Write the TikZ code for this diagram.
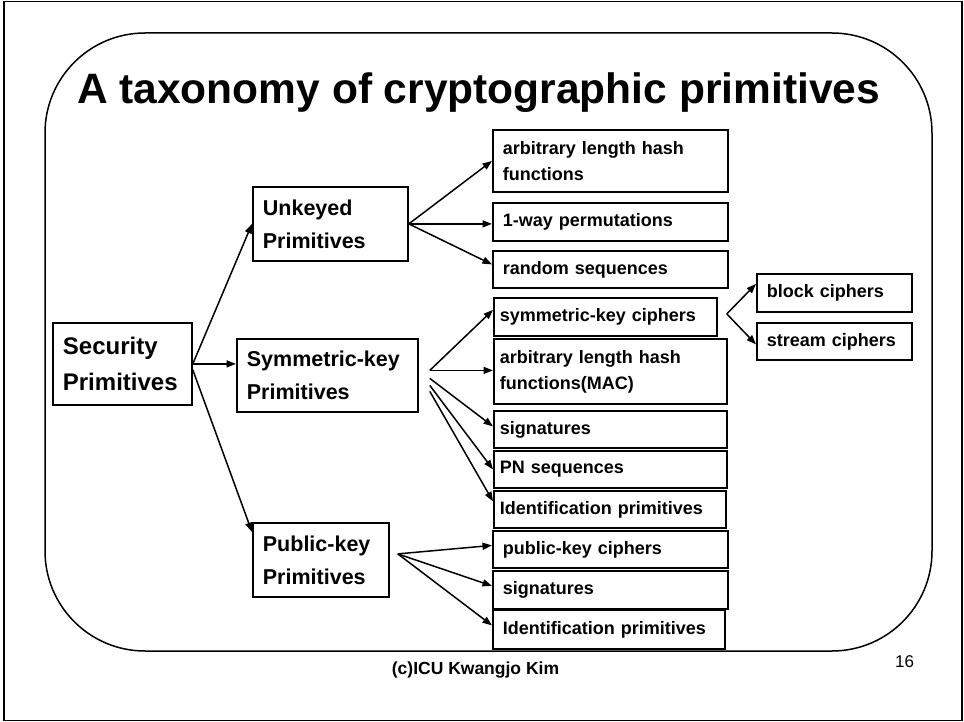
\documentclass[tikz,border=0pt]{standalone}
\usepackage{fontspec}
\setmainfont{Liberation Sans}
\usetikzlibrary{arrows.meta, positioning}

\tikzset{
    prim/.style={draw, line width=1.8pt, anchor=north west, align=left,
        inner xsep=10pt, inner ysep=0pt, font=\fontsize{21.5}{33}\selectfont\bfseries},
    leaf/.style={prim, font=\fontsize{18}{26}\selectfont\bfseries},
    link/.style={-{Triangle[length=9.5pt,width=7pt]}, line width=1.5pt}
}

\begin{document}
\begin{tikzpicture}[x=1pt, y=-1pt]
        \useasboundingbox (0,0) rectangle (964,722);
        \draw[line width=1.5pt] (4,1.5) rectangle (962,720.5);
        \draw[line width=1.5pt, rounded corners=100pt] (45,33) rectangle (932,651);

        \node[anchor=base, font=\fontsize{42.5}{48}\selectfont\bfseries] (title) at (478.5,104)
            {A taxonomy of cryptographic primitives};

        % left and middle column
        \node[prim, font=\fontsize{24}{36}\selectfont\bfseries, text width=119pt, minimum height=82pt] (sec) at (52,322) {Security\\Primitives};
        \node[prim, text width=135pt, minimum height=74pt] (unk) at (252,186) {Unkeyed\\Primitives};
        \node[prim, text width=161pt, minimum height=73pt] (sym) at (236,338) {Symmetric-key\\Primitives};
        \node[prim, text width=116pt, minimum height=74pt] (pub) at (252,522) {Public-key\\Primitives};

        % right column
        \node[leaf, text width=215pt, minimum height=62pt] (hash) at (492,129) {arbitrary length hash\\functions};
        \node[leaf, text width=215pt, minimum height=38pt] (oneway) at (492,202) {1-way permutations};
        \node[leaf, text width=215pt, minimum height=37pt] (rand) at (492,250) {random sequences};

        \node[leaf, inner xsep=6pt, text width=211pt, minimum height=38pt] (symc) at (493,297) {symmetric-key ciphers};
        \node[leaf, inner xsep=6pt, text width=221pt, minimum height=65pt] (mac) at (493,338) {arbitrary length hash\\functions(MAC)};
        \node[leaf, inner xsep=6pt, text width=221pt, minimum height=37pt] (sigs) at (493,410) {signatures};
        \node[leaf, inner xsep=6pt, text width=221pt, minimum height=37pt] (pnseq) at (493,450) {PN sequences};
        \node[leaf, inner xsep=6pt, text width=220pt, minimum height=37pt] (idents) at (493,490) {Identification primitives};

        \node[leaf, text width=215pt, minimum height=37pt] (pubc) at (492,530) {public-key ciphers};
        \node[leaf, text width=215pt, minimum height=38pt] (sigp) at (492,570) {signatures};
        \node[leaf, text width=212pt, minimum height=39pt] (identp) at (492,609) {Identification primitives};

        \node[leaf, text width=135pt, minimum height=38pt] (block) at (756,273) {block ciphers};
        \node[leaf, text width=135pt, minimum height=37pt] (stream) at (756,322) {stream ciphers};

        % connectors
        \draw[link] (sec.east) -- (unk.west);
        \draw[link] (sec.east) -- (sec.east -| sym.west);
        \draw[link] ([yshift=-6pt]sec.east) -- ([yshift=-10pt]pub.north west);

        \draw[link] (unk.east) -- (hash.west);
        \draw[link] (unk.east) -- (unk.east -| oneway.west);
        \draw[link] (unk.east) -- ([yshift=5pt]rand.west);

        \coordinate (symfan) at ([xshift=11pt,yshift=5pt]sym.east);
        \draw[link] (symfan) -- ([yshift=7pt]symc.west);
        \draw[link] (symfan) -- (symfan -| mac.west);
        \draw[link] ([yshift=-8pt]symfan) -- ([yshift=3pt]sigs.west);
        \draw[link] ([yshift=-15pt]symfan) -- (pnseq.west);
        \draw[link] ([yshift=-21pt]symfan) -- ([yshift=8pt]idents.west);

        \coordinate (cipfan) at ([xshift=9pt,yshift=3pt]symc.east);
        \draw[link] (cipfan) -- ([yshift=9pt]block.west);
        \draw[link] (cipfan) -- ([yshift=-3pt]stream.west);

        \coordinate (pubfan) at ([xshift=8pt,yshift=6pt]pub.east);
        \draw[link] (pubfan) -- ([yshift=4pt]pubc.west);
        \draw[link] (pubfan) -- ([yshift=4pt]sigp.west);
        \draw[link] (pubfan) -- ([yshift=4pt]identp.west);

        % footer
        \node[anchor=base, font=\fontsize{17.5}{20}\selectfont\bfseries] (credit) at (475.5,674) {(c)ICU Kwangjo Kim};
        \node[font=\fontsize{17}{20}\selectfont] (pageno) at (904.5,662) {16};
    \end{tikzpicture}
\end{document}
